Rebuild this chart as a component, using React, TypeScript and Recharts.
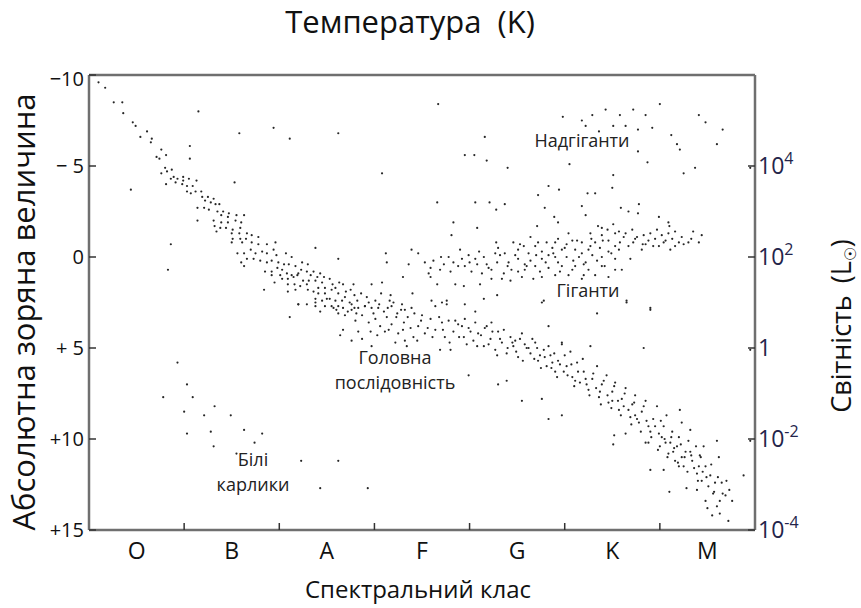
import { Scatter, ScatterChart, XAxis, YAxis } from "recharts";

// [spectral subclass (O0 = 0 … M9 = 69), absolute magnitude]
type Pt = [number, number];

const classes = ["O", "B", "A", "F", "G", "K", "M"];
const classTicks = [5, 10, 15, 20, 25, 30, 35, 40, 45, 50, 55, 60, 65];
const temperatureTicks = [10, 20, 30, 40, 50, 60];
const temperatureLabels: Record<number, string> = { 10: "25 000", 20: "10 000", 40: "6 000", 60: "3 000" };
const magnitudeTicks = [-10, -5, 0, 5, 10, 15];
const magnitudeLabels = ["−10", "− 5", "0", "+ 5", "+10", "+15"];
const luminosityTicks = [-5, 0, 5, 10, 15];
const luminosityPowers = ["4", "2", "", "-2", "-4"]; // "" means plain 1

const mainSequenceUpper: Pt[] = [
  [1.0, -9.6], [1.7, -9.3], [2.6, -8.5], [3.5, -8.5], [3.6, -7.9], [4.6, -7.4], [4.9, -7.2], [6.1, -6.9],
  [5.4, -6.6], [6.6, -6.5], [6.5, -6.3], [7.6, -5.9], [8.1, -5.6], [7.1, -5.5], [7.4, -5.4], [10.6, -5.4],
  [8.0, -4.9], [8.7, -4.8], [7.6, -4.6], [8.2, -4.7], [8.9, -4.4], [8.6, -4.3], [9.3, -4.3], [9.9, -4.4],
  [10.5, -4.3], [9.9, -4.2], [11.3, -4.2], [8.1, -4.0], [9.1, -4.1], [9.8, -4.0], [10.3, -3.9], [10.9, -3.9],
  [10.3, -3.6], [11.2, -3.6], [10.7, -3.5], [11.8, -3.6], [11.9, -3.3], [12.5, -3.3], [13.1, -3.2], [12.2, -3.1],
  [12.8, -3.0], [11.4, -2.7], [12.1, -2.7], [13.3, -2.9], [13.7, -2.9], [12.6, -2.6], [13.5, -2.5], [14.1, -2.5],
  [14.7, -2.4], [13.9, -2.3], [14.6, -2.2], [15.5, -2.3], [16.3, -2.3], [13.1, -2.0], [11.4, -2.0], [13.9, -1.9],
  [14.6, -1.9], [15.4, -2.0], [16.0, -1.9], [13.2, -1.7], [13.8, -1.6], [14.4, -1.6], [15.1, -1.5], [15.9, -1.6],
  [13.4, -1.4], [15.0, -1.3], [15.8, -1.3], [16.6, -1.3], [17.1, -1.2], [17.8, -1.1], [15.1, -1.0], [15.9, -1.0],
  [16.5, -1.0], [15.0, -0.8], [16.1, -0.8], [17.1, -0.8], [17.8, -0.7], [18.7, -0.7], [19.6, -0.8], [15.6, -0.2],
  [16.3, -0.2], [17.0, -0.4], [17.5, -0.2], [18.2, -0.3], [18.7, -0.2], [19.4, -0.4], [19.7, -0.1], [20.7, -0.2],
  [21.3, 0.0], [16.6, 0.1], [17.3, 0.1], [16.0, 0.3], [18.0, 0.2], [18.7, 0.3], [19.2, 0.2], [19.9, 0.3],
  [20.5, 0.4], [21.0, 0.4], [16.3, 0.5], [18.5, 0.8], [19.2, 0.8], [19.8, 0.6], [20.3, 0.7], [21.7, 0.5],
  [22.3, 0.7], [23.0, 0.4], [19.2, 1.0], [20.1, 1.0], [20.8, 0.9], [21.3, 1.0], [22.0, 0.9], [22.9, 0.8],
  [23.6, 0.8], [24.3, 0.9], [19.5, 1.4], [20.3, 1.2], [20.9, 1.2], [21.5, 1.1], [21.9, 1.0], [22.5, 1.3],
  [23.1, 1.3], [23.8, 1.3], [24.5, 1.4], [25.3, 1.2], [20.9, 1.5], [21.6, 1.5], [22.2, 1.6], [22.9, 1.5],
  [24.1, 1.7], [24.8, 1.7], [25.9, 1.7], [26.7, 1.5], [27.5, 1.8], [27.8, 1.5], [18.4, 1.8], [20.9, 1.9],
  [21.7, 1.8], [23.0, 1.8], [23.6, 1.9], [24.1, 2.0], [24.8, 2.0], [25.5, 1.8], [26.2, 2.0], [26.9, 2.2],
  [23.8, 2.3], [24.5, 2.4], [25.3, 2.3], [25.9, 2.4], [26.6, 2.4], [27.4, 2.5], [28.2, 2.4], [22.0, 2.6],
  [22.9, 2.6], [23.8, 2.7], [24.8, 2.7], [25.7, 2.8], [26.2, 2.7], [26.7, 2.8], [27.6, 2.6], [28.3, 2.8],
  [29.0, 2.7], [29.4, 2.5], [29.7, 2.8], [30.1, 2.4], [30.7, 2.0], [31.7, 2.1], [32.0, 2.5], [31.4, 2.8],
  [32.9, 2.6], [33.9, 2.8],
  [22.4, 0.3], [23.3, 1.0], [24.0, 1.1], [24.7, 1.1], [25.6, 1.5], [26.3, 1.4], [27.0, 1.9], [27.9, 2.1],
  [28.6, 2.0], [29.2, 2.2], [29.9, 3.1], [30.5, 2.6], [31.0, 3.0], [31.6, 2.4], [32.3, 3.3], [32.8, 2.9],
  [33.5, 3.3], [34.2, 3.1], [26.0, 2.9], [27.2, 3.0], [28.1, 3.1], [29.6, 4.1], [30.3, 4.3], [31.5, 4.0],
  [33.0, 4.0], [34.5, 4.6], [25.0, 2.3], [27.9, 2.8],
];

const mainSequenceLower: Pt[] = [
  [21.1, 3.3], [22.0, 2.6], [23.8, 2.5], [24.3, 3.0], [26.4, 4.3], [26.7, 4.0], [28.3, 4.1], [28.7, 4.5],
  [29.7, 4.9], [25.5, 2.7], [26.2, 3.1], [26.9, 3.2], [27.6, 2.9], [28.0, 3.5], [28.7, 3.2], [29.4, 3.6],
  [30.1, 3.4], [30.6, 3.8], [31.1, 4.1], [31.3, 3.3], [31.8, 3.7], [32.4, 3.1], [32.5, 4.2], [33.1, 3.6],
  [33.2, 4.6], [33.8, 3.9], [34.1, 4.4], [32.2, 4.7], [33.4, 4.9], [29.0, 2.7], [30.4, 2.8], [31.8, 2.7],
  [33.2, 2.9], [27.6, 4.6],
  [34.6, 3.8], [35.3, 4.2], [35.9, 3.4], [36.4, 4.0], [37.1, 3.6], [37.4, 4.4], [37.8, 3.5], [38.3, 4.1],
  [38.8, 3.7], [39.4, 4.4], [39.9, 3.9], [39.5, 3.4], [40.4, 4.6], [40.9, 4.2], [41.5, 4.9], [41.8, 3.8],
  [42.2, 4.5], [42.7, 5.1], [43.0, 4.1], [43.4, 4.7], [43.9, 5.3], [44.3, 4.4], [44.6, 4.9], [45.1, 5.5],
  [45.5, 4.2], [45.8, 4.8], [46.4, 5.3], [46.9, 4.7], [47.2, 5.7], [47.8, 5.1], [48.1, 6.0], [48.5, 5.4],
  [49.0, 6.3], [49.3, 5.7], [49.7, 4.8], [50.2, 6.0], [50.6, 5.2], [50.8, 6.6], [51.3, 5.8], [51.6, 6.9],
  [52.0, 6.3], [52.5, 7.3], [52.9, 6.7], [53.4, 6.0], [53.6, 7.7], [53.9, 7.0], [54.4, 6.5], [54.6, 8.0],
  [55.0, 7.4], [55.3, 6.9], [55.7, 8.4], [56.0, 7.8], [56.4, 7.2], [56.9, 8.8], [57.1, 8.1], [57.4, 7.6],
  [57.8, 9.1], [58.1, 8.5], [58.5, 7.9], [58.8, 10.2], [59.0, 9.6], [59.3, 8.9], [59.7, 8.2], [60.0, 10.4],
  [60.2, 9.9], [60.4, 9.3], [60.7, 8.7], [60.9, 10.8], [61.1, 10.2], [61.3, 9.6], [61.6, 11.2], [61.8, 10.4],
  [62.0, 9.9], [62.1, 8.4], [62.3, 9.1], [62.5, 11.5], [62.7, 10.7], [63.0, 10.1], [63.2, 9.5], [63.4, 11.2],
  [63.8, 10.4], [63.9, 11.9], [64.3, 11.0], [64.4, 12.3], [64.6, 10.4], [64.8, 11.5], [65.1, 12.6], [65.3, 12.0],
  [65.6, 13.0], [65.8, 12.4], [66.0, 10.1], [66.2, 11.0], [66.3, 13.4], [66.5, 12.4], [66.9, 13.1], [65.0, 13.8],
  [65.5, 14.2], [66.3, 14.1], [67.2, 14.5], [67.6, 13.4], [67.0, 12.3], [63.9, 12.8], [58.5, 10.2], [59.0, 11.7],
  [60.4, 11.7], [55.2, 9.8], [56.4, 9.7], [53.4, 3.1], [56.5, 2.5], [59.0, 2.9], [58.3, 5.0], [48.3, 8.9],
  [45.5, 7.9], [49.7, 8.7], [43.0, 7.0], [43.9, 6.8], [39.9, 6.5], [47.6, 7.8], [39.5, 2.6], [40.6, 3.0],
  [42.3, 3.6], [47.6, 2.5], [48.3, 3.8], [49.7, 4.7], [52.7, 4.9], [36.4, 2.7], [37.6, 2.6], [35.0, 3.2],
  [36.9, 5.1], [38.0, 5.1], [44.8, 4.6], [46.2, 5.0], [47.4, 5.4], [48.7, 5.8], [49.9, 6.3], [51.1, 6.8],
  [52.3, 7.0], [53.7, 7.4], [55.0, 7.9], [56.2, 8.2], [57.4, 8.7], [58.8, 9.3], [59.9, 9.7], [60.6, 10.2],
  [61.4, 10.7], [62.3, 11.0], [63.2, 10.7], [64.1, 11.5], [62.0, 11.5], [64.8, 13.4], [66.0, 13.7],
  [34.9, 3.5], [35.6, 3.9], [36.1, 4.4], [36.8, 3.3], [37.2, 4.0], [37.9, 4.7], [38.5, 3.5], [38.9, 4.4],
  [39.2, 3.8], [39.7, 4.8], [40.1, 4.1], [40.6, 3.6], [40.8, 4.9], [41.2, 4.3], [41.6, 3.9], [42.0, 4.8],
  [42.4, 4.1], [42.9, 5.4], [43.2, 4.5], [43.6, 4.0], [44.0, 5.0], [44.5, 4.7], [44.9, 5.2], [45.3, 4.5],
  [45.6, 5.7], [46.0, 5.0], [46.6, 4.5], [46.8, 5.6], [47.1, 5.0], [47.5, 6.1], [47.9, 5.5], [48.3, 4.9],
  [48.6, 6.1], [48.9, 5.3], [49.2, 6.6], [49.5, 5.9], [50.0, 5.4], [50.3, 6.5], [50.7, 5.9], [51.0, 7.1],
  [51.4, 6.3], [51.9, 5.6], [52.2, 6.7], [52.6, 7.6], [53.0, 6.4], [53.3, 7.2], [53.8, 8.1], [54.1, 6.8],
  [54.5, 7.6], [54.9, 8.3], [55.2, 7.1], [55.6, 7.9], [55.9, 8.7], [56.3, 7.5], [56.7, 8.4], [57.0, 9.2],
  [57.3, 8.0], [57.6, 8.9], [58.0, 9.6], [58.3, 8.2], [58.6, 9.0], [59.1, 9.9], [59.5, 9.3], [59.8, 10.6],
  [60.1, 9.0], [60.5, 10.0], [60.8, 11.0], [61.2, 9.9], [61.5, 10.5], [61.9, 11.3], [62.2, 10.3], [62.6, 11.0],
  [62.9, 11.8], [63.3, 10.9], [63.6, 11.6], [64.0, 12.3], [64.2, 10.9], [64.5, 11.8], [64.9, 12.1], [65.4, 11.4],
  [65.7, 12.9], [66.1, 12.1], [66.6, 13.0], [67.3, 12.8],
];

const giants: Pt[] = [
  [36.6, -3.0], [40.6, -3.0], [42.1, -3.0], [43.7, -2.9], [42.8, -2.6], [47.9, -2.7], [51.8, -2.8], [55.9, -2.7],
  [56.7, -2.5], [57.8, -2.9], [48.9, -2.2], [52.2, -2.3], [57.7, -2.4], [59.9, -2.2], [38.3, -1.9], [49.3, -1.9],
  [60.9, -1.9], [61.0, -1.7], [40.8, -1.6], [47.1, -1.7], [52.7, -1.3], [53.9, -1.6], [55.1, -1.8],
  [38.1, -1.2], [42.8, -0.8], [44.6, -0.8], [46.4, -1.1], [47.2, -0.8], [48.1, -0.8], [49.3, -1.0], [50.4, -1.3],
  [50.8, -0.9], [51.8, -0.8], [52.8, -1.0], [53.9, -1.2], [54.6, -0.9], [55.3, -1.3], [56.2, -1.1], [57.1, -1.5],
  [57.4, -1.0], [58.3, -1.2], [59.0, -1.3], [59.5, -1.0], [60.2, -1.2], [60.9, -1.3], [61.3, -1.0], [62.0, -0.8],
  [62.5, -0.7], [63.0, -0.8], [63.5, -1.4], [64.1, -0.8], [61.1, -0.4], [59.9, -0.6], [58.5, -0.7], [56.7, -0.6],
  [55.3, -0.6], [53.7, -0.5], [52.5, -0.4], [51.1, -0.4], [49.7, -0.4], [48.7, -0.5], [47.6, -0.3], [46.2, -0.2],
  [45.1, -0.4], [43.7, -0.2], [42.7, -0.2], [41.5, 0.0], [40.6, 0.1], [39.2, 0.1], [38.3, 0.3], [37.3, 0.4],
  [36.2, 0.2], [35.3, 0.3], [34.6, -0.2], [35.7, 0.9], [36.9, 0.7], [39.5, 0.5], [40.8, 0.4], [41.8, 0.4],
  [42.9, 0.3], [44.1, 0.3], [45.1, 0.1], [46.4, 0.2], [47.6, 0.1], [49.0, 0.0], [50.2, 0.0], [51.5, 0.0],
  [52.9, -0.1], [53.9, 0.0], [55.3, 0.1], [40.2, 0.8], [41.3, 0.9], [42.3, 0.7], [43.6, 0.9], [44.4, 0.7],
  [45.8, 0.7], [46.9, 0.5], [48.3, 0.6], [49.7, 0.5], [51.1, 0.5], [52.5, 0.7], [53.9, 0.5], [55.3, 0.7],
  [56.0, 0.7], [43.4, 1.2], [44.3, 1.3], [45.5, 1.1], [47.6, 1.1], [49.0, 1.0], [50.4, 1.0], [53.2, 1.0],
  [38.5, 1.5], [39.4, 1.6], [41.1, 1.5], [41.5, 2.3], [42.9, 2.1], [35.9, 1.1], [36.0, 2.4], [37.1, 2.5],
  [37.6, 2.4], [47.8, 2.4], [56.5, 2.4], [59.0, 2.8], [54.5, -1.5], [53.5, -1.7], [55.7, -1.4], [58.8, -0.9],
  [60.4, -0.8], [57.2, -0.8], [55.8, -0.8], [53.2, -0.8], [50.2, -0.7], [49.0, -0.8], [46.9, -0.6], [45.7, -0.6],
  [44.8, -0.1], [48.3, -0.1], [51.8, -0.2], [54.6, -0.3], [58.1, -0.4], [43.0, -0.5], [39.9, -0.1], [37.8, 0.0],
  [38.8, 0.5], [45.8, 0.4], [49.3, 0.3], [52.2, 0.3], [50.8, 0.7], [47.4, 0.8], [45.1, 0.8], [42.3, 1.2],
  [46.7, 1.2], [51.8, 1.2], [54.6, 1.1], [36.6, 1.5],
  [35.9, 0.6], [37.0, 0.0], [38.0, 0.8], [39.0, -0.4], [40.0, 0.3], [41.0, -0.3], [42.0, 0.6], [43.2, -0.1],
  [44.0, 0.5], [45.3, -0.7], [46.0, 0.5], [47.0, -0.1], [48.0, 0.3], [48.8, -0.2], [49.5, 0.8], [50.0, -0.5],
  [50.9, 0.2], [51.3, -0.9], [52.0, 0.4], [52.7, -0.6], [53.4, 0.2], [54.0, -0.9], [54.9, -0.2], [55.7, -0.4],
  [56.4, -1.3], [56.9, 0.1], [57.6, -1.1], [58.2, -0.7], [59.3, -0.6], [59.7, -1.5], [60.6, -0.9], [61.6, -1.4],
  [62.3, -1.1], [63.3, -1.0], [61.6, -0.6], [64.4, -1.2], [54.2, 0.5], [52.0, 1.0],
];

const supergiants: Pt[] = [
  [36.7, -8.4], [49.8, -7.7], [51.8, -7.5], [52.9, -7.8], [54.3, -8.1], [55.8, -7.8], [57.2, -8.1], [58.5, -7.8],
  [60.0, -8.4], [55.1, -7.2], [56.4, -7.2], [57.7, -7.0], [59.2, -7.1], [52.2, -7.2], [53.6, -6.9], [64.1, -7.8],
  [64.8, -7.4], [66.6, -7.0], [61.2, -6.7], [61.8, -6.2], [62.1, -5.9], [66.0, -6.2], [41.6, -6.6], [57.7, -5.8],
  [39.5, -5.6], [40.5, -5.6], [41.8, -5.3], [44.0, -4.9], [50.5, -5.1], [58.7, -5.2], [62.5, -4.6], [63.7, -4.9],
  [69.5, -4.9], [55.1, -4.5], [48.3, -3.9], [49.4, -3.7], [47.2, -3.4], [52.4, -3.5], [53.2, -3.5], [55.0, -3.8],
];

const whiteDwarfs: Pt[] = [
  [9.3, 5.8], [10.3, 7.0], [7.8, 7.7], [10.9, 7.7], [13.2, 8.2], [10.0, 8.5], [12.1, 8.7], [14.9, 8.7],
  [10.3, 9.7], [12.8, 9.6], [16.3, 9.5], [18.2, 9.7], [13.1, 10.4], [17.4, 10.2], [15.5, 10.8], [22.3, 11.2],
  [26.2, 11.2], [24.3, 12.7], [29.3, 12.7],
];

const strays: Pt[] = [
  [11.5, -8.0], [15.8, -6.8], [19.4, -7.1], [21.1, -6.5], [26.2, -6.8], [30.8, -4.6], [15.3, -4.1], [10.6, -6.1],
  [4.4, -3.7], [8.6, -0.7], [8.3, 0.7], [23.8, -0.5], [26.2, 0.1], [29.7, 1.5], [30.8, 1.4], [31.2, -0.2],
  [31.3, 0.3], [33.6, 0.4], [33.0, 1.1], [33.9, -0.4], [34.0, 2.0], [68.8, 12.0], [69.5, 10.1], [69.5, 5.1],
  [61.0, 12.9], [62.8, 12.7], [55.1, 10.3],
];

const toXY = (pts: Pt[]) => pts.map(([x, y]) => ({ x, y }));
const groups = [mainSequenceUpper, mainSequenceLower, giants, supergiants, whiteDwarfs, strays];

const FONT = "'Open Sans', 'Noto Sans', sans-serif";
const FRAME = "#6f6f6f";
const TICK = "#333";
const NAVY = "#24244a";

const Dot = (p: any) => <circle cx={p.cx} cy={p.cy} r={1.1} fill="#262626" />;

function BottomTick({ x, y, payload }: any) {
  const v = payload.value;
  if (v % 10 === 0) return <line x1={x} x2={x} y1={y} y2={y - 7} stroke={TICK} strokeWidth={1.5} />;
  return (
    <text x={x} y={y + 29} textAnchor="middle" fontSize={23} fontFamily={FONT} fill="#111">
      {classes[Math.floor(v / 10)]}
    </text>
  );
}

function TopTick({ x, y, payload }: any) {
  const label = temperatureLabels[payload.value];
  return (
    <g>
      <line x1={x} x2={x} y1={y} y2={y + 7} stroke={TICK} strokeWidth={1.5} />
      {label && (
        <text x={x} y={y - 8} textAnchor="middle" fontSize={21} fontFamily={FONT} fill="#111">
          {label}
        </text>
      )}
    </g>
  );
}

function LeftTick({ x, y, payload }: any) {
  const i = magnitudeTicks.indexOf(payload.value);
  return (
    <g>
      <line x1={x} x2={x + 7} y1={y} y2={y} stroke={TICK} strokeWidth={1.5} />
      <text x={x - 5} y={y + (payload.value === -10 ? 4 : 0)} dy="0.35em" textAnchor="end" fontSize={20} fontFamily={FONT} fill="#111">
        {magnitudeLabels[i]}
      </text>
    </g>
  );
}

function RightTick({ x, y, payload }: any) {
  const p = luminosityPowers[luminosityTicks.indexOf(payload.value)];
  return (
    <g>
      <line x1={x} x2={x - 7} y1={y} y2={y} stroke={TICK} strokeWidth={1.5} />
      <text x={x + 3} y={y} dy="0.35em" fontSize={23} fontFamily={FONT} fill={NAVY}>
        {p === "" ? "1" : "10"}
        {p !== "" && (
          <tspan dy={-10} fontSize={16}>
            {p}
          </tspan>
        )}
      </text>
    </g>
  );
}

export default function App() {
  return (
    <div style={{ position: "relative", width: 861, height: 608 }}>
      <style>{"body{margin:0}"}</style>
      <ScatterChart width={861} height={608} margin={{ top: 0, right: 0, bottom: 0, left: 0 }}>
        <XAxis
          xAxisId="cls"
          type="number"
          dataKey="x"
          domain={[0, 70]}
          ticks={classTicks}
          interval={0}
          height={78}
          tickSize={0}
          tickMargin={0}
          tickLine={false}
          tick={<BottomTick />}
          axisLine={{ stroke: FRAME, strokeWidth: 2.5 }}
        />
        <XAxis
          xAxisId="temp"
          orientation="top"
          type="number"
          domain={[0, 70]}
          allowDataOverflow
          ticks={temperatureTicks}
          interval={0}
          height={75}
          tickSize={0}
          tickMargin={0}
          tickLine={false}
          tick={<TopTick />}
          axisLine={{ stroke: FRAME, strokeWidth: 2.5 }}
        />
        <YAxis
          yAxisId="mag"
          type="number"
          dataKey="y"
          domain={[-10, 15]}
          reversed
          ticks={magnitudeTicks}
          interval={0}
          width={89}
          tickSize={0}
          tickMargin={0}
          tickLine={false}
          tick={<LeftTick />}
          axisLine={{ stroke: FRAME, strokeWidth: 2.5 }}
        />
        <YAxis
          yAxisId="lum"
          orientation="right"
          type="number"
          domain={[-10, 15]}
          allowDataOverflow
          reversed
          ticks={luminosityTicks}
          interval={0}
          width={106}
          tickSize={0}
          tickMargin={0}
          tickLine={false}
          tick={<RightTick />}
          axisLine={{ stroke: FRAME, strokeWidth: 2.5 }}
        />
        {groups.map((g, i) => (
          <Scatter key={i} xAxisId="cls" yAxisId="mag" data={toXY(g)} shape={Dot} isAnimationActive={false} />
        ))}
      </ScatterChart>
      <svg
        width={861}
        height={608}
        style={{ position: "absolute", left: 0, top: 0, pointerEvents: "none" }}
        fontFamily={FONT}
      >
        <text x={410} y={33} textAnchor="middle" fontSize={31} fill="#111">
          Температура<tspan dx={16}>(K)</tspan>
        </text>
        <text x={418} y={598} textAnchor="middle" fontSize={24} fill="#111">
          Спектральний клас
        </text>
        <text transform="translate(35,312) rotate(-90)" textAnchor="middle" fontSize={31} fill="#111">
          Абсолютна зоряна величина
        </text>
        <text transform="translate(851,326) rotate(-90)" textAnchor="middle" fontSize={27} fill="#111">
          Світність<tspan dx={12}>(L</tspan>
          <tspan dy={5} fontSize={16}>☉</tspan>
          <tspan dy={-5}>)</tspan>
        </text>
        <g fontSize={18} fill="#222" textAnchor="middle">
          <text x={582} y={147}>Надгіганти</text>
          <text x={588} y={297}>Гіганти</text>
          <text x={395} y={364}>Головна</text>
          <text x={395} y={389}>послідовність</text>
          <text x={253} y={466}>Білі</text>
          <text x={253} y={491}>карлики</text>
        </g>
      </svg>
    </div>
  );
}
